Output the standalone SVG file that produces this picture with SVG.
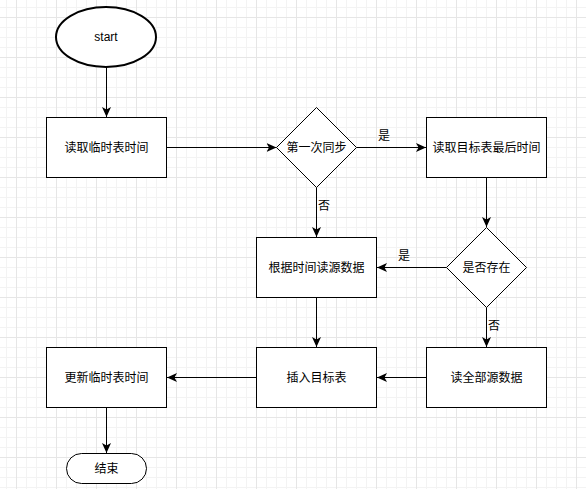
<svg xmlns="http://www.w3.org/2000/svg" width="586" height="489" viewBox="0 0 586 489">
<defs>
<pattern id="grid" x="16" y="17" width="40" height="40" patternUnits="userSpaceOnUse">
<path d="M10.5 0V40M20.5 0V40M30.5 0V40M0 10.5H40M0 20.5H40M0 30.5H40" stroke="#f3f3f3" stroke-width="1" fill="none"/>
<path d="M0.5 0V40M0 0.5H40" stroke="#e6e6e6" stroke-width="1" fill="none"/>
</pattern>
<marker id="arr" markerUnits="userSpaceOnUse" markerWidth="12" markerHeight="10" refX="10" refY="4.5" orient="auto">
<path d="M0,0 L10,4.5 L0,9 L2.5,4.5 Z" fill="#000"/>
</marker>
<style>
.n{fill:#fff;stroke:#000;stroke-width:1}
.t{font-family:"Liberation Sans","Noto Sans CJK SC",sans-serif;font-size:12px;fill:#000;text-anchor:middle;dominant-baseline:central}
.e{fill:none;stroke:#000;stroke-width:1;marker-end:url(#arr)}
.l{fill:none;stroke:#000;stroke-width:1}
</style>
</defs>
<rect width="586" height="489" fill="#fff"/>
<rect width="586" height="489" fill="url(#grid)"/>
<g id="connectors">
<path class="e" d="M106.5 67V117"/>
<path class="e" d="M166.5 147.5H276.5"/>
<path class="e" d="M356.5 147.5H426"/>
<path class="e" d="M316.5 187.5V237"/>
<path class="e" d="M486.5 177.5V227"/>
<path class="e" d="M446.5 267.5H377"/>
<path class="e" d="M486.5 307.5V347"/>
<path class="e" d="M316.5 297.5V347"/>
<path class="e" d="M426.5 377.5H377"/>
<path class="e" d="M256.5 377.5H167"/>
<path class="e" d="M106.5 407.5V453"/>
<text class="t" x="384" y="136">是</text>
<text class="t" x="324" y="206">否</text>
<text class="t" x="404" y="256">是</text>
<text class="t" x="494" y="326">否</text>
</g>
<g id="start">
<ellipse cx="106" cy="37" rx="50" ry="30" fill="#fff" stroke="#000" stroke-width="2"/>
<text class="t" x="106" y="37">start</text>
</g>
<g id="readTemp">
<rect class="n" x="46.5" y="117.5" width="120" height="60"/>
<text class="t" x="106.5" y="147.5">读取临时表时间</text>
</g>
<g id="firstSync">
<path class="n" d="M316.5 107.5L356.5 147.5L316.5 187.5L276.5 147.5Z"/>
<text class="t" x="316.5" y="147.5">第一次同步</text>
</g>
<g id="readTargetLast">
<rect class="n" x="426.5" y="117.5" width="120" height="60"/>
<text class="t" x="486.5" y="147.5">读取目标表最后时间</text>
</g>
<g id="exists">
<path class="n" d="M486.5 227.5L526.5 267.5L486.5 307.5L446.5 267.5Z"/>
<text class="t" x="486.5" y="267.5">是否存在</text>
</g>
<g id="readByTime">
<rect class="n" x="256.5" y="237.5" width="120" height="60"/>
<text class="t" x="316.5" y="267.5">根据时间读源数据</text>
</g>
<g id="readAll">
<rect class="n" x="426.5" y="347.5" width="120" height="60"/>
<text class="t" x="486.5" y="377.5">读全部源数据</text>
</g>
<g id="insert">
<rect class="n" x="256.5" y="347.5" width="120" height="60"/>
<text class="t" x="316.5" y="377.5">插入目标表</text>
</g>
<g id="updateTemp">
<rect class="n" x="46.5" y="347.5" width="120" height="60"/>
<text class="t" x="106.5" y="377.5">更新临时表时间</text>
</g>
<g id="end">
<rect class="n" x="66.5" y="453.5" width="80" height="30" rx="15" ry="15"/>
<text class="t" x="106.5" y="468.5">结束</text>
</g>
</svg>
